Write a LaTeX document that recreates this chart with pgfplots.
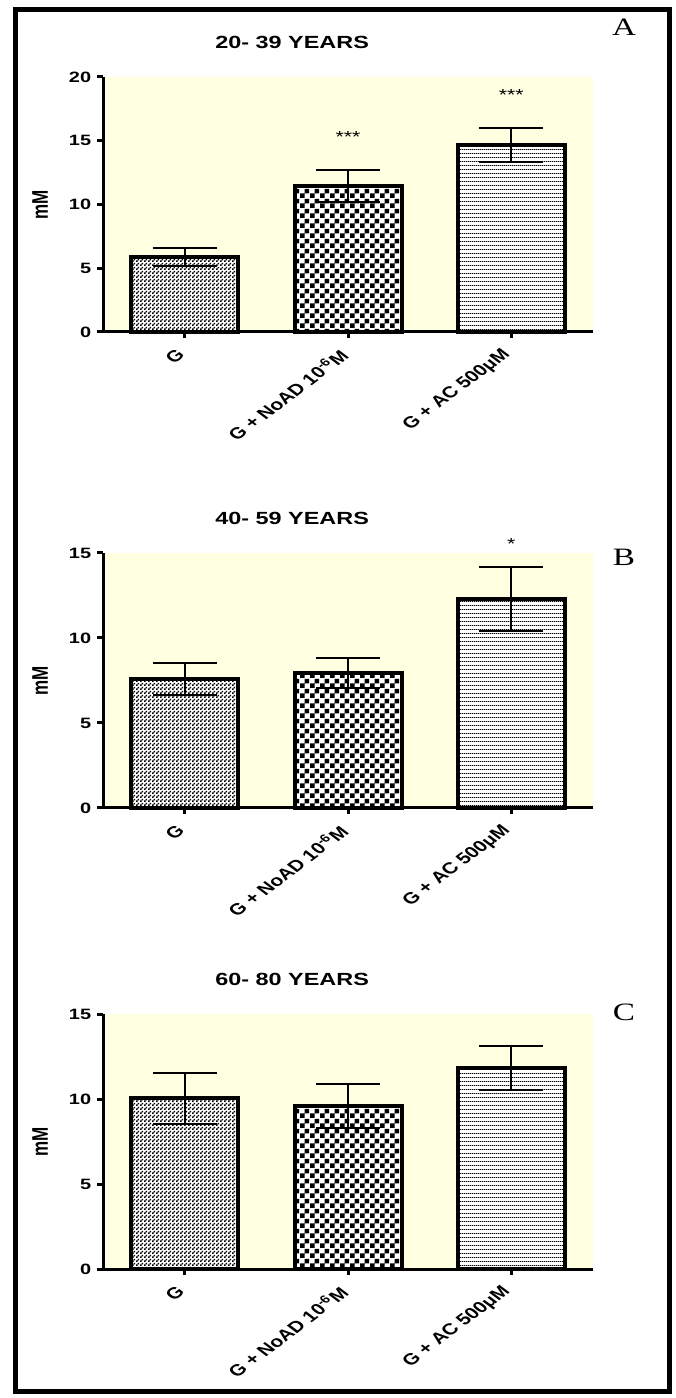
\documentclass[border=0pt]{standalone}
\usepackage{fontspec}
\setmainfont{Liberation Sans}
\newfontfamily\seriffont{Liberation Serif}
\usepackage{pgfplots}
\pgfplotsset{compat=1.18}
\usetikzlibrary{patterns,patterns.meta}

\definecolor{bgy}{RGB}{255,255,225}

\pgfdeclarepattern{
  name=finecheck, type=uncolored,
  bottom left={\pgfpoint{0pt}{0pt}}, top right={\pgfpoint{2pt}{2pt}},
  tile size={\pgfpoint{2pt}{2pt}},
  code={
    \pgfpathrectangle{\pgfpoint{0pt}{0pt}}{\pgfpoint{1pt}{1pt}}
    \pgfpathrectangle{\pgfpoint{1pt}{1pt}}{\pgfpoint{1pt}{1pt}}
    \pgfusepath{fill}
  }
}
\pgfdeclarepattern{
  name=coarsecheck, type=uncolored,
  bottom left={\pgfpoint{0pt}{0pt}}, top right={\pgfpoint{5pt}{5pt}},
  tile size={\pgfpoint{5pt}{5pt}},
  code={
    \pgfpathrectangle{\pgfpoint{0pt}{0pt}}{\pgfpoint{2.5pt}{2.5pt}}
    \pgfpathrectangle{\pgfpoint{2.5pt}{2.5pt}}{\pgfpoint{2.5pt}{2.5pt}}
    \pgfusepath{fill}
  }
}
\pgfdeclarepattern{
  name=hlines, type=uncolored,
  bottom left={\pgfpoint{0pt}{0pt}}, top right={\pgfpoint{1pt}{2pt}},
  tile size={\pgfpoint{1pt}{2pt}},
  code={
    \pgfpathrectangle{\pgfpoint{-0.1pt}{0pt}}{\pgfpoint{1.2pt}{0.55pt}}
    \pgfusepath{fill}
  }
}

\pgfplotsset{
  panel/.style={
    scale only axis, width=245pt, height=127.5pt,
    anchor=south west,
    xmin=-0.5, xmax=2.5, ymin=0,
    axis x line*=bottom, axis y line*=left,
    axis line style={line width=1.5pt, -},
    every tick/.style={black, line width=1.5pt},
    major tick length=3pt, tick align=outside,
    axis background/.style={fill=bgy},
    clip=false,
    /pgf/number format/assume math mode=true,
    xtick={0,1,2},
    xticklabels={G, G + NoAD 10\textsuperscript{-6}M, G + AC 500μM},
    x tick label style={font=\fontsize{7.9}{9}\selectfont\bfseries, yshift=-5.5pt, xscale=1.33, rotate=45, anchor=east, inner sep=2pt},
    y tick label style={font=\fontsize{7.5}{9}\selectfont\bfseries, xscale=1.33, inner sep=2pt},
    title style={font=\fontsize{8.8}{10}\selectfont\bfseries, xscale=1.33, at={(axis description cs:0.386,1)}, anchor=center, yshift=11.5pt},
    ylabel={mM},
    ylabel style={font=\fontsize{8.5}{10}\selectfont\bfseries, rotate=-90, xscale=1.33, rotate=90, at={(axis description cs:-0.1286,0.5)}, anchor=center},
  },
  wbar/.style={ybar, bar width=53.5pt, bar shift=0pt, fill=white, draw=none, forget plot},
  pbar/.style={ybar, bar width=53.5pt, bar shift=0pt, draw=black, line width=2pt, pattern color=black, forget plot},
  ebar/.style={draw=none, mark=none, forget plot, error bars/.cd, y dir=both, y explicit,
    error mark=|,
    error bar style={draw=black, line width=1pt},
    error mark options={draw=black, line width=1pt, mark size=16pt}},
}

\begin{document}
\begin{tikzpicture}
\path[use as bounding box] (0pt,0pt) rectangle (337.5pt,699pt);
\draw[line width=2.5pt] (7.5pt,3pt) rectangle (334.5pt,694pt);

% ---------------- Panel A
\begin{axis}[panel, at={(51.5pt,533pt)}, ymax=20, ytick={0,5,10,15,20}, title={20- 39 YEARS}]
\addplot[wbar] coordinates {(0,5.9) (1,11.45) (2,14.65)};
\addplot[ebar] coordinates {(0,5.9) +- (0,0.7) (1,11.45) +- (0,1.25) (2,14.65) +- (0,1.35)};
\addplot[pbar, pattern=finecheck] coordinates {(0,5.9)};
\addplot[pbar, pattern=coarsecheck] coordinates {(1,11.45)};
\addplot[pbar, pattern=hlines] coordinates {(2,14.65)};
\node[font=\fontsize{8}{9}\selectfont, xscale=1.33] at (axis cs:1,15.3) {***};
\node[font=\fontsize{8}{9}\selectfont, xscale=1.33] at (axis cs:2,18.6) {***};
\end{axis}

% ---------------- Panel B
\begin{axis}[panel, at={(51.5pt,295pt)}, ymax=15, ytick={0,5,10,15}, title={40- 59 YEARS}]
\addplot[wbar] coordinates {(0,7.6) (1,7.95) (2,12.3)};
\addplot[ebar] coordinates {(0,7.6) +- (0,0.95) (1,7.95) +- (0,0.9) (2,12.3) +- (0,1.9)};
\addplot[pbar, pattern=finecheck] coordinates {(0,7.6)};
\addplot[pbar, pattern=coarsecheck] coordinates {(1,7.95)};
\addplot[pbar, pattern=hlines] coordinates {(2,12.3)};
\node[font=\fontsize{8}{9}\selectfont, xscale=1.33] at (axis cs:2,15.5) {*};
\end{axis}

% ---------------- Panel C
\begin{axis}[panel, at={(51.5pt,64.5pt)}, ymax=15, ytick={0,5,10,15}, title={60- 80 YEARS}]
\addplot[wbar] coordinates {(0,10.05) (1,9.6) (2,11.8)};
\addplot[ebar] coordinates {(0,10.05) +- (0,1.5) (1,9.6) +- (0,1.3) (2,11.8) +- (0,1.3)};
\addplot[pbar, pattern=finecheck] coordinates {(0,10.05)};
\addplot[pbar, pattern=coarsecheck] coordinates {(1,9.6)};
\addplot[pbar, pattern=hlines] coordinates {(2,11.8)};
\end{axis}

\node[font=\seriffont\fontsize{12.5}{14}\selectfont, xscale=1.33] at (312pt,685.5pt) {A};
\node[font=\seriffont\fontsize{12.5}{14}\selectfont, xscale=1.33] at (312pt,420.5pt) {B};
\node[font=\seriffont\fontsize{12.5}{14}\selectfont, xscale=1.33] at (312pt,193pt) {C};
\end{tikzpicture}
\end{document}
